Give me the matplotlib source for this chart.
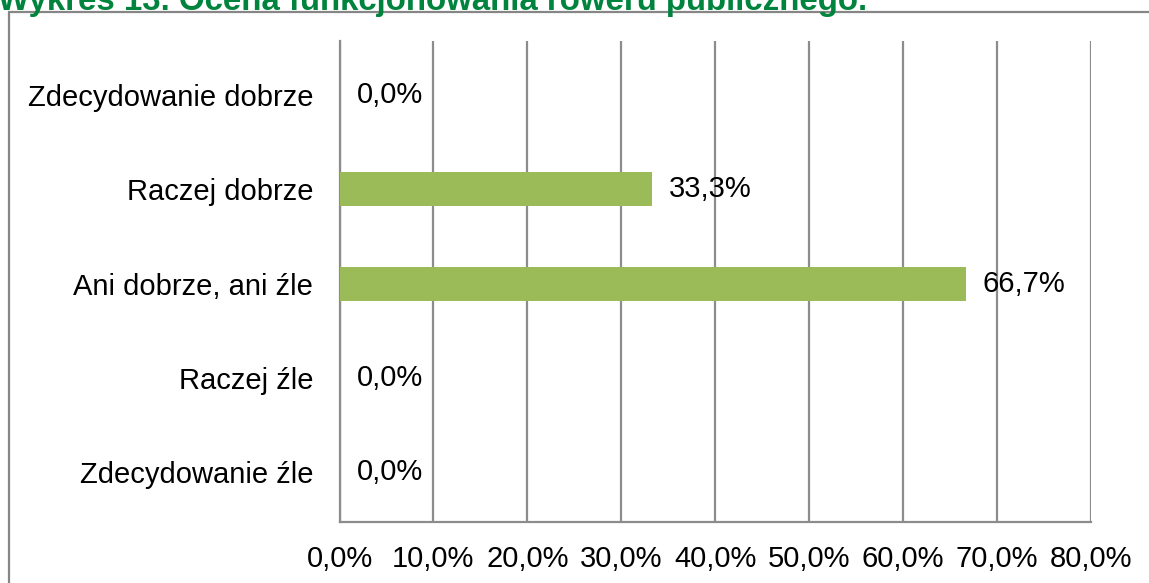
import matplotlib.pyplot as plt
from matplotlib.patches import Rectangle

plt.rcParams['font.family'] = ['Liberation Sans', 'DejaVu Sans']

categories = ['Zdecydowanie dobrze', 'Raczej dobrze', 'Ani dobrze, ani źle',
              'Raczej źle', 'Zdecydowanie źle']
values = [0.0, 33.3, 66.7, 0.0, 0.0]
xticks = [0, 10, 20, 30, 40, 50, 60, 70, 80]
title = 'Wykres 13. Ocena funkcjonowania roweru publicznego.'

W, H = 1149, 583
fig = plt.figure(figsize=(W / 100, H / 100), dpi=100)

# outer frame (only top and left edges are visible)
fig.patches.append(Rectangle((9 / W, -0.1), 1.2, 1 - 12 / H + 0.1,
                             transform=fig.transFigure, fill=False,
                             edgecolor='#868686', linewidth=1.6))

fig.text(-2 / W, 1 - 10 / H, title, color='#00843D', fontsize=23.8,
         fontweight='bold', va='baseline', ha='left')

ax = fig.add_axes([339.5 / W, 1 - 521.5 / H, (1091 - 339.5) / W, (521.5 - 41) / H])

y = list(range(len(categories)))
ax.barh(y, values, height=0.36, color='#9BBB59', linewidth=0, zorder=3)
for yi, v in zip(y, values):
    ax.text(v + 1.8, yi, f'{v:.1f}%'.replace('.', ','), va='center',
            ha='left', fontsize=21, zorder=4)

ax.set_ylim(len(categories) - 0.48, -0.57)
ax.set_yticks(y)
ax.set_yticklabels(categories, fontsize=21)
ax.set_xlim(0, 80)
ax.set_xticks(xticks)
ax.set_xticklabels([f'{t:.1f}%'.replace('.', ',') for t in xticks], fontsize=21)
ax.tick_params(axis='both', length=0)
ax.tick_params(axis='y', pad=19)
ax.tick_params(axis='x', pad=17)

ax.grid(axis='x', color='#8C8C8C', linewidth=1.6, zorder=0)
for s in ['top', 'right']:
    ax.spines[s].set_visible(False)
for s in ['left', 'bottom']:
    ax.spines[s].set_color('#8C8C8C')
    ax.spines[s].set_linewidth(1.6)

fig.savefig('out.png', dpi=100)
